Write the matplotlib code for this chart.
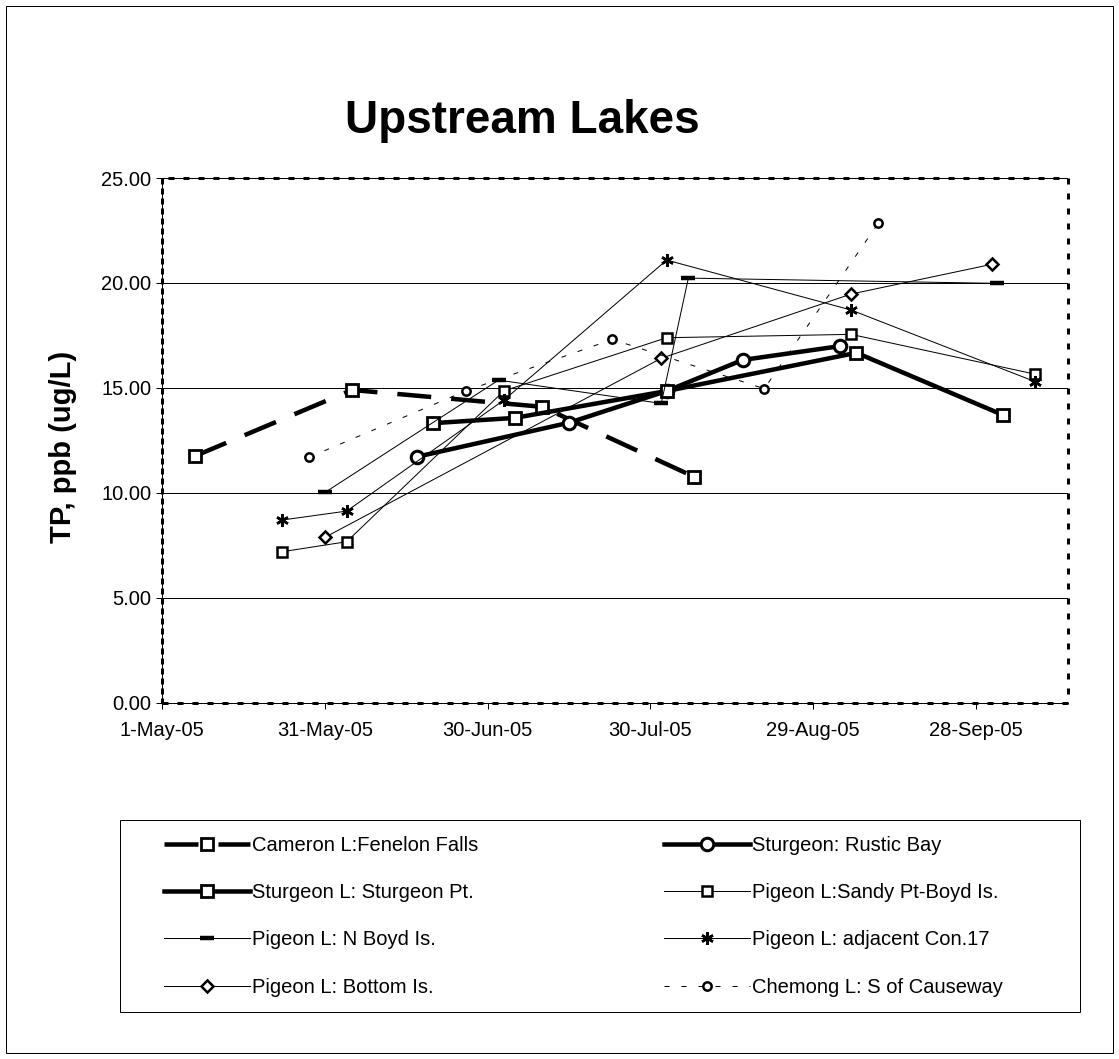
import matplotlib
matplotlib.use("Agg")
import matplotlib.pyplot as plt
import matplotlib.dates as mdates
from matplotlib.patches import Rectangle
import pandas as pd

plt.rcParams['font.family'] = ['Liberation Sans', 'DejaVu Sans']
plt.rcParams['lines.scale_dashes'] = False

# total phosphorus by station, 2005 season
cameron_dates = ["2005-05-07", "2005-06-05", "2005-07-10", "2005-08-07"]
cameron_tp = [11.75, 14.90, 14.10, 10.77]

rustic_dates = ["2005-06-17", "2005-07-15", "2005-08-02", "2005-08-16", "2005-09-03"]
rustic_tp = [11.72, 13.34, 14.85, 16.33, 16.99]

sturgeon_dates = ["2005-06-20", "2005-07-05", "2005-08-02", "2005-09-06", "2005-10-03"]
sturgeon_tp = [13.32, 13.57, 14.85, 16.67, 13.71]

sandy_dates = ["2005-05-23", "2005-06-04", "2005-07-03", "2005-08-02", "2005-09-05", "2005-10-09"]
sandy_tp = [7.19, 7.67, 14.86, 17.39, 17.55, 15.65]

nboyd_dates = ["2005-05-31", "2005-07-02", "2005-08-01", "2005-08-06", "2005-10-02"]
nboyd_tp = [10.02, 15.37, 14.26, 20.23, 19.98]

con17_dates = ["2005-05-23", "2005-06-04", "2005-07-03", "2005-08-02", "2005-09-05", "2005-10-09"]
con17_tp = [8.70, 9.13, 14.42, 21.09, 18.71, 15.29]

bottom_dates = ["2005-05-31", "2005-08-01", "2005-09-05", "2005-10-01"]
bottom_tp = [7.88, 16.41, 19.47, 20.89]

chemong_dates = ["2005-05-28", "2005-06-26", "2005-07-23", "2005-08-20", "2005-09-10"]
chemong_tp = [11.69, 14.86, 17.31, 14.96, 22.84]

labels = ["Cameron L:Fenelon Falls", "Sturgeon: Rustic Bay", "Sturgeon L: Sturgeon Pt.",
          "Pigeon L:Sandy Pt-Boyd Is.", "Pigeon L: N Boyd Is.", "Pigeon L: adjacent Con.17",
          "Pigeon L: Bottom Is.", "Chemong L: S of Causeway"]

W, H = 1119, 1059
PX = 0.72  # points per pixel at 100 dpi


def fx(px):
    return px / W


def fy(py):
    return 1 - py / H


fig = plt.figure(figsize=(W / 100, H / 100), dpi=100)
fig.patch.set_facecolor("white")
ax = fig.add_axes([fx(162.3), fy(702.7), (1068 - 162.3) / W, (702.7 - 178) / H])

thin = 1.0 * PX
thick = 4.5 * PX
white = "white"

styles = [
    dict(lw=thick, ls=(0, (34 * PX, 20 * PX)), marker="s", ms=8.5, mew=2.0),
    dict(lw=thick, ls="-", marker="o", ms=9, mew=2.2),
    dict(lw=thick, ls="-", marker="s", ms=8, mew=2.0),
    dict(lw=thin, ls="-", marker="s", ms=7, mew=1.8),
    dict(lw=thin, ls="-", marker="_", ms=10, mew=3.2),
    dict(lw=thin, ls="-", marker=(6, 2, 0), ms=9, mew=1.8),
    dict(lw=thin, ls="-", marker="D", ms=6, mew=1.8),
    dict(lw=thin, ls=(0, (5 * PX, 12 * PX)), marker="o", ms=6, mew=1.8),
]

all_dates = [cameron_dates, rustic_dates, sturgeon_dates, sandy_dates,
             nboyd_dates, con17_dates, bottom_dates, chemong_dates]
all_tp = [cameron_tp, rustic_tp, sturgeon_tp, sandy_tp,
          nboyd_tp, con17_tp, bottom_tp, chemong_tp]

lines = []
for d, v, lab, st in zip(all_dates, all_tp, labels, styles):
    ln, = ax.plot(pd.to_datetime(d), v, color="black", mfc=white, mec="black",
                  label=lab, linestyle=st["ls"], linewidth=st["lw"],
                  marker=st["marker"], markersize=st["ms"], markeredgewidth=st["mew"],
                  zorder=3)
    lines.append(ln)

start = pd.Timestamp("2005-05-01")
x0 = mdates.date2num(start)
ax.set_xlim(x0, x0 + 167)
ax.set_ylim(0, 25)
ax.set_xticks([x0 + 30 * i for i in range(6)])
ax.xaxis.set_major_formatter(plt.FuncFormatter(
    lambda v, p: "{}-{}".format(mdates.num2date(v).day, mdates.num2date(v).strftime("%b-%y"))))
ax.set_yticks([0, 5, 10, 15, 20, 25])
ax.yaxis.set_major_formatter(plt.FuncFormatter(lambda v, p: "%.2f" % v))
ax.yaxis.grid(True, color="black", lw=thin)
ax.set_axisbelow(True)

ax.tick_params(axis="both", direction="out", length=6 * PX, width=thin,
               labelsize=14.5, colors="black")
ax.tick_params(axis="y", pad=5 * PX)
ax.tick_params(axis="x", pad=12 * PX)

for s in ["top", "right"]:
    ax.spines[s].set_visible(False)
for s in ["left", "bottom"]:
    ax.spines[s].set_linewidth(thin)

# dashed plot-area border
ax.plot([0, 1, 1, 0], [0, 0, 1, 1], transform=ax.transAxes, color="black",
        lw=3 * PX, ls=(0, (6 * PX, 9 * PX)), clip_on=False, zorder=4)
ax.plot([0, 0], [1, 0], transform=ax.transAxes, color="black",
        lw=3 * PX, ls=(0, (6 * PX, 4 * PX)), clip_on=False, zorder=4)

fig.text(fx(522), fy(133), "Upstream Lakes", ha="center", va="baseline",
         fontsize=33, fontweight="bold")
fig.text(fx(63), fy(447), "TP, ppb (ug/L)", rotation=90, ha="center", va="center",
         fontsize=21, fontweight="bold")

# legend: columns filled top to bottom
order = [0, 2, 4, 6, 1, 3, 5, 7]
fig.legend([lines[i] for i in order], [labels[i] for i in order], ncol=2,
           loc="upper left", bbox_to_anchor=(fx(164), fy(836)), frameon=False,
           borderpad=0, borderaxespad=0, handlelength=4.27, handletextpad=0.1,
           columnspacing=9.2, labelspacing=1.4, fontsize=14.5)

fig.add_artist(Rectangle((fx(120), fy(1012)), 960 / W, 192 / H, transform=fig.transFigure,
                         fill=False, ec="black", lw=thin))
fig.add_artist(Rectangle((fx(6), fy(1053)), 1107 / W, 1047 / H, transform=fig.transFigure,
                         fill=False, ec="black", lw=thin))

fig.savefig("out.png", dpi=100, facecolor="white")
